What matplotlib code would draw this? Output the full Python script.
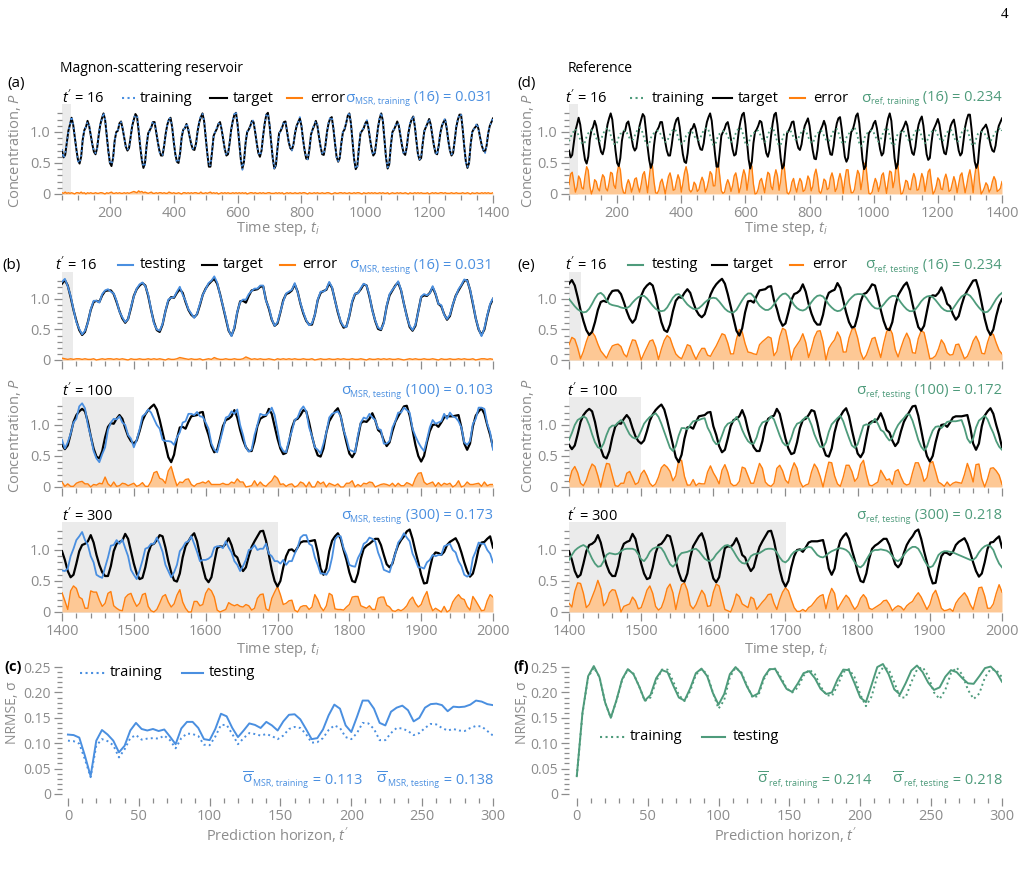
import numpy as np
import matplotlib
matplotlib.use("Agg")
import matplotlib.pyplot as plt
from matplotlib.lines import Line2D
from matplotlib.ticker import MultipleLocator, FixedLocator, FuncFormatter

plt.rcParams["font.family"] = ["Open Sans", "DejaVu Sans"]
plt.rcParams["mathtext.fontset"] = "custom"
plt.rcParams["mathtext.rm"] = "Open Sans"
plt.rcParams["mathtext.it"] = "Open Sans:italic"
plt.rcParams["mathtext.bf"] = "Open Sans:bold"
plt.rcParams["mathtext.sf"] = "Open Sans"

#######################################################################
### Data

# training window, every 5 steps; target is P(t + 16)
train_steps = np.arange(50, 1401, 5)
target_train = np.array([
    0.70, 0.59, 0.63, 0.82, 1.02, 1.12, 1.23, 1.12, 0.92, 0.72,
    0.55, 0.49, 0.60, 0.88, 1.03, 1.08, 1.18, 1.10, 0.95, 0.80,
    0.68, 0.64, 0.74, 0.95, 1.12, 1.22, 1.30, 1.20, 0.95, 0.70,
    0.50, 0.45, 0.58, 0.86, 1.00, 1.02, 1.14, 1.17, 1.05, 0.90,
    0.76, 0.70, 0.74, 0.92, 1.10, 1.20, 1.29, 1.25, 1.02, 0.76,
    0.55, 0.42, 0.50, 0.78, 0.98, 1.03, 1.08, 1.16, 1.16, 1.00,
    0.84, 0.70, 0.62, 0.62, 0.78, 0.98, 1.12, 1.20, 1.23, 1.08,
    0.84, 0.64, 0.52, 0.50, 0.66, 0.92, 1.04, 1.06, 1.13, 1.05,
    0.92, 0.80, 0.72, 0.71, 0.82, 1.02, 1.16, 1.24, 1.30, 1.18,
    0.92, 0.66, 0.44, 0.44, 0.68, 0.94, 1.00, 1.05, 1.13, 1.16,
    1.04, 0.88, 0.72, 0.62, 0.64, 0.82, 1.04, 1.18, 1.28, 1.31,
    1.12, 0.84, 0.56, 0.41, 0.52, 0.82, 1.00, 1.04, 1.10, 1.18,
    1.16, 1.00, 0.82, 0.66, 0.60, 0.70, 0.94, 1.14, 1.28, 1.31,
    1.12, 0.84, 0.58, 0.41, 0.46, 0.74, 0.98, 1.02, 1.08, 1.16,
    1.17, 1.00, 0.84, 0.74, 0.71, 0.80, 0.98, 1.10, 1.16, 1.22,
    1.10, 0.88, 0.70, 0.57, 0.56, 0.72, 0.96, 1.04, 1.10, 1.18,
    1.10, 0.92, 0.76, 0.64, 0.63, 0.78, 1.00, 1.14, 1.22, 1.24,
    1.06, 0.82, 0.60, 0.52, 0.58, 0.82, 1.00, 1.04, 1.14, 1.26,
    1.30, 1.14, 0.84, 0.56, 0.40, 0.45, 0.74, 0.98, 1.02, 1.06,
    1.14, 1.18, 1.06, 0.88, 0.72, 0.62, 0.66, 0.86, 1.08, 1.22,
    1.30, 1.18, 0.88, 0.58, 0.41, 0.48, 0.78, 1.00, 1.04, 1.10,
    1.17, 1.10, 0.94, 0.78, 0.66, 0.63, 0.76, 0.98, 1.12, 1.20,
    1.25, 1.10, 0.86, 0.64, 0.55, 0.58, 0.82, 1.02, 1.08, 1.14,
    1.21, 1.12, 0.94, 0.78, 0.66, 0.64, 0.78, 0.98, 1.10, 1.16,
    1.20, 1.06, 0.86, 0.70, 0.62, 0.66, 0.86, 1.08, 1.20, 1.28,
    1.28, 1.05, 0.76, 0.52, 0.42, 0.50, 0.80, 1.00, 1.05, 1.08,
    1.12, 1.04, 0.90, 0.78, 0.70, 0.68, 0.78, 0.98, 1.10, 1.16,
    1.22])

# offset of the MSR training curve from the target
msr_train_dev = np.array([
    0.02, -0.01, 0.03, 0.01, -0.02, 0.01, 0.02, -0.01, 0.00, 0.02,
    -0.02, 0.01, 0.03, -0.01, 0.02, 0.00, -0.02, 0.01, 0.02, -0.01,
    0.01, 0.02, -0.01, 0.01, 0.02, -0.02, 0.01, 0.00, 0.02, -0.01,
    0.02, 0.03, -0.01, 0.01, -0.02, 0.01, 0.02, -0.01, 0.01, 0.02,
    -0.01, 0.02, 0.01, -0.02, 0.03, 0.04, -0.03, 0.02, 0.05, 0.03,
    0.04, 0.02, -0.03, 0.02, 0.01, -0.02, 0.03, 0.01, -0.01, 0.02,
    0.01, -0.02, 0.02, 0.01, 0.02, -0.01, 0.01, 0.03, -0.02, 0.01,
    0.02, 0.01, -0.01, 0.02, 0.01, 0.00, 0.02, -0.02, 0.01, 0.02,
    -0.01, 0.02, 0.01, 0.02, -0.02, 0.01, 0.01, 0.03, -0.01, 0.01,
    0.02, -0.01, 0.02, 0.03, 0.01, -0.02, 0.01, 0.02, 0.00, -0.01,
    0.02, 0.01, -0.02, 0.01, 0.02, 0.01, -0.01, 0.02, 0.01, 0.02,
    -0.01, 0.02, 0.01, -0.02, 0.01, 0.02, 0.00, 0.01, -0.02, 0.02,
    0.01, 0.02, -0.01, 0.01, 0.02, -0.01, 0.02, 0.01, 0.01, -0.02,
    0.02, 0.01, 0.01, -0.01, 0.02, 0.01, -0.02, 0.01, 0.02, 0.00,
    -0.01, 0.02, 0.01, 0.02, -0.01, 0.01, 0.02, -0.01, 0.01, 0.02,
    0.01, -0.02, 0.02, 0.01, 0.00, 0.02, -0.01, 0.01, 0.02, -0.01,
    0.02, 0.01, -0.01, 0.02, 0.01, 0.01, -0.02, 0.02, 0.01, 0.00,
    0.01, 0.02, -0.01, 0.01, 0.02, -0.02, 0.01, 0.02, 0.01, -0.01,
    0.02, -0.01, 0.01, 0.02, 0.01, -0.02, 0.02, 0.01, 0.00, 0.02,
    -0.01, 0.01, 0.02, 0.01, -0.02, 0.01, 0.02, 0.01, -0.01, 0.02,
    0.01, 0.02, -0.01, 0.01, 0.02, 0.00, -0.01, 0.02, 0.01, 0.01,
    -0.02, 0.01, 0.02, 0.01, -0.01, 0.02, 0.01, 0.00, 0.02, -0.01,
    0.01, 0.02, 0.01, -0.02, 0.01, 0.02, 0.01, -0.01, 0.01, 0.02,
    0.00, -0.01, 0.02, 0.01, 0.02, -0.01, 0.01, 0.02, -0.02, 0.01,
    0.02, 0.01, -0.01, 0.01, 0.02, 0.01, -0.01, 0.02, 0.01, -0.01,
    0.01, 0.02, 0.01, -0.01, 0.02, 0.01, 0.00, 0.02, -0.01, 0.01,
    0.02, -0.01, 0.01, 0.02, 0.01, -0.02, 0.01, 0.02, 0.01, -0.01,
    0.02])

ref_train = np.array([
    0.85, 0.91, 0.98, 1.01, 1.05, 1.01, 0.94, 0.88, 0.82, 0.80,
    0.84, 0.93, 0.98, 1.00, 1.03, 1.00, 0.95, 0.90, 0.86, 0.85,
    0.88, 0.95, 1.01, 1.04, 1.07, 1.04, 0.95, 0.87, 0.81, 0.79,
    0.83, 0.92, 0.97, 0.98, 1.02, 1.03, 0.99, 0.94, 0.89, 0.87,
    0.88, 0.94, 1.00, 1.04, 1.07, 1.05, 0.98, 0.89, 0.82, 0.78,
    0.81, 0.90, 0.96, 0.98, 1.00, 1.02, 1.02, 0.97, 0.92, 0.87,
    0.84, 0.84, 0.90, 0.96, 1.01, 1.04, 1.05, 1.00, 0.92, 0.85,
    0.81, 0.81, 0.86, 0.94, 0.98, 0.99, 1.01, 0.99, 0.94, 0.90,
    0.88, 0.87, 0.91, 0.98, 1.02, 1.05, 1.07, 1.03, 0.94, 0.86,
    0.79, 0.79, 0.86, 0.95, 0.97, 0.99, 1.01, 1.02, 0.98, 0.93,
    0.88, 0.84, 0.85, 0.91, 0.98, 1.03, 1.06, 1.07, 1.01, 0.92,
    0.82, 0.78, 0.81, 0.91, 0.97, 0.98, 1.00, 1.03, 1.02, 0.97,
    0.91, 0.86, 0.84, 0.87, 0.95, 1.02, 1.06, 1.07, 1.01, 0.92,
    0.83, 0.78, 0.79, 0.88, 0.96, 0.98, 1.00, 1.02, 1.03, 0.97,
    0.92, 0.88, 0.87, 0.90, 0.96, 1.00, 1.02, 1.04, 1.00, 0.93,
    0.87, 0.83, 0.82, 0.88, 0.96, 0.98, 1.00, 1.03, 1.00, 0.94,
    0.89, 0.85, 0.85, 0.90, 0.97, 1.02, 1.04, 1.05, 0.99, 0.91,
    0.84, 0.81, 0.83, 0.91, 0.97, 0.98, 1.02, 1.06, 1.07, 1.02,
    0.92, 0.82, 0.77, 0.79, 0.88, 0.96, 0.98, 0.99, 1.02, 1.03,
    0.99, 0.93, 0.88, 0.84, 0.86, 0.92, 1.00, 1.04, 1.07, 1.03,
    0.93, 0.83, 0.78, 0.80, 0.90, 0.97, 0.98, 1.00, 1.03, 1.00,
    0.95, 0.90, 0.86, 0.85, 0.89, 0.96, 1.01, 1.04, 1.05, 1.00,
    0.92, 0.85, 0.82, 0.83, 0.91, 0.98, 1.00, 1.02, 1.04, 1.01,
    0.95, 0.90, 0.86, 0.85, 0.90, 0.96, 1.00, 1.02, 1.04, 0.99,
    0.92, 0.87, 0.84, 0.86, 0.92, 1.00, 1.04, 1.06, 1.06, 0.99,
    0.89, 0.81, 0.78, 0.81, 0.90, 0.97, 0.99, 1.00, 1.01, 0.98,
    0.94, 0.90, 0.87, 0.86, 0.90, 0.96, 1.00, 1.02, 1.04, 1.07,
    1.02])

# testing window, every 4 steps
test_steps = np.arange(1400, 2001, 4)
horizons = [16, 100, 300]
# P(t + 16) for t = 1400 ... 2284, every 4 steps (panel for t' uses an offset)
target_series = np.array([
    1.25, 1.31, 1.22, 1.03, 0.82, 0.64, 0.49, 0.41, 0.46, 0.62,
    0.82, 0.95, 0.97, 0.95, 1.06, 1.13, 1.14, 1.14, 1.08, 0.95,
    0.80, 0.68, 0.61, 0.67, 0.85, 1.05, 1.16, 1.22, 1.26, 1.22,
    1.05, 0.82, 0.62, 0.49, 0.46, 0.58, 0.80, 0.97, 1.03, 1.02,
    1.10, 1.16, 1.10, 0.95, 0.82, 0.74, 0.70, 0.75, 0.90, 1.07,
    1.17, 1.24, 1.29, 1.33, 1.25, 1.08, 0.88, 0.68, 0.48, 0.40,
    0.52, 0.78, 0.96, 0.97, 0.94, 1.05, 1.14, 1.15, 1.16, 1.20,
    1.21, 0.98, 0.84, 0.66, 0.56, 0.60, 0.78, 0.98, 1.08, 1.10,
    1.14, 1.24, 1.12, 0.92, 0.76, 0.64, 0.58, 0.58, 0.74, 0.98,
    1.10, 1.13, 1.15, 1.26, 1.18, 0.98, 0.78, 0.62, 0.53, 0.55,
    0.72, 0.95, 1.08, 1.10, 1.16, 1.24, 1.22, 1.04, 0.82, 0.64,
    0.51, 0.49, 0.62, 0.88, 1.06, 1.14, 1.22, 1.27, 1.14, 0.92,
    0.72, 0.54, 0.48, 0.56, 0.80, 1.03, 1.06, 1.05, 1.10, 1.19,
    1.08, 0.92, 0.88, 0.75, 0.66, 0.72, 0.90, 1.05, 1.14, 1.22,
    1.30, 1.31, 1.15, 0.92, 0.68, 0.50, 0.41, 0.50, 0.72, 0.90,
    1.00, 1.01, 0.97, 1.04, 1.12, 1.14, 1.14, 1.14, 1.15, 1.16,
    0.96, 0.70, 0.60, 0.70, 0.98, 1.15, 1.22, 1.27, 1.18, 1.00,
    0.84, 0.64, 0.50, 0.48, 0.62, 0.86, 1.02, 1.07, 1.10, 1.14,
    1.18, 1.18, 1.08, 0.92, 0.77, 0.72, 0.78, 0.95, 1.08, 1.16,
    1.22, 1.30, 1.33, 1.18, 0.98, 0.80, 0.60, 0.46, 0.47, 0.70,
    0.90, 0.96, 0.95, 0.92, 0.97, 1.08, 1.13, 1.16, 1.19, 1.10,
    0.96, 0.80, 0.66, 0.57, 0.62, 0.80, 1.02, 1.12, 1.13, 1.18,
    1.22, 1.04])

msr_test16_dev = np.array([
    0.03, 0.02, -0.01, 0.02, 0.01, -0.02, 0.02, 0.01, 0.02, -0.01,
    0.01, 0.02, 0.00, -0.01, 0.02, 0.01, 0.02, -0.02, 0.01, 0.02,
    -0.01, 0.02, 0.01, 0.00, 0.02, -0.01, 0.01, 0.02, 0.01, -0.01,
    0.02, 0.01, -0.02, 0.01, 0.02, 0.01, 0.00, 0.02, -0.01, 0.01,
    0.02, 0.04, -0.03, 0.02, 0.01, 0.02, -0.01, 0.01, 0.02, 0.00,
    -0.01, 0.02, 0.01, 0.04, 0.02, -0.01, 0.01, 0.02, 0.01, -0.01,
    0.02, 0.01, -0.01, 0.02, 0.05, 0.03, -0.01, 0.02, 0.01, 0.02,
    0.01, -0.01, 0.02, 0.01, 0.00, 0.02, 0.01, -0.02, 0.01, 0.02,
    0.01, 0.02, -0.01, 0.01, 0.02, 0.01, -0.01, 0.02, 0.00, 0.01,
    0.02, -0.01, 0.01, 0.02, 0.01, -0.01, 0.02, 0.01, 0.02, -0.01,
    0.01, 0.02, 0.01, -0.01, 0.02, 0.01, 0.00, 0.02, -0.01, 0.01,
    0.02, 0.01, -0.02, 0.01, 0.02, 0.01, -0.01, 0.02, 0.01, 0.00,
    -0.01, 0.02, 0.01, 0.02, -0.01, 0.01, 0.02, 0.01, -0.01, 0.02,
    0.01, 0.00, 0.02, -0.01, 0.01, 0.02, 0.01, -0.01, 0.02, 0.01,
    0.02, -0.01, 0.01, 0.02, 0.00, 0.01, -0.02, 0.02, 0.01, 0.02,
    0.01])

msr_test100 = np.array([
    0.76, 0.62, 0.72, 0.86, 1.04, 1.10, 1.30, 1.35, 1.27, 1.00,
    0.82, 0.58, 0.46, 0.40, 0.53, 0.64, 0.92, 1.04, 1.10, 1.09,
    1.14, 1.04, 1.00, 0.84, 0.78, 0.64, 0.76, 0.93, 1.14, 1.18,
    1.25, 1.20, 1.10, 1.00, 0.94, 0.76, 0.74, 0.74, 0.73, 0.68,
    0.80, 0.88, 1.04, 1.06, 1.18, 1.18, 1.16, 1.21, 1.14, 1.13,
    1.04, 0.94, 0.70, 0.60, 0.56, 0.74, 0.92, 1.12, 1.14, 1.22,
    1.18, 1.25, 1.00, 0.84, 0.64, 0.57, 0.60, 0.84, 1.00, 1.18,
    1.16, 1.16, 1.20, 1.28, 1.16, 0.92, 0.66, 0.58, 0.56, 0.76,
    0.90, 1.08, 1.12, 1.24, 1.30, 1.22, 0.96, 0.82, 0.64, 0.60,
    0.54, 0.70, 0.88, 1.12, 1.18, 1.20, 1.22, 1.14, 0.92, 0.78,
    0.60, 0.58, 0.56, 0.84, 1.04, 1.12, 1.10, 1.18, 1.12, 1.08,
    0.94, 0.92, 0.70, 0.70, 0.74, 0.96, 1.06, 1.20, 1.20, 1.28,
    1.24, 1.20, 0.94, 0.82, 0.72, 0.64, 0.58, 0.76, 0.96, 1.08,
    1.02, 1.04, 1.06, 1.18, 1.10, 1.20, 1.14, 1.12, 1.06, 0.96,
    0.72, 0.68, 0.74, 1.02, 1.10, 1.28, 1.28, 1.26, 1.02, 0.88,
    0.60])

msr_test300 = np.array([
    0.67, 0.66, 0.70, 0.90, 1.02, 1.16, 1.22, 1.29, 1.16, 1.08,
    0.90, 0.80, 0.60, 0.57, 0.55, 0.72, 0.88, 1.07, 1.08, 1.16,
    1.10, 1.17, 1.03, 0.90, 0.68, 0.60, 0.53, 0.67, 0.83, 1.02,
    1.04, 1.10, 1.10, 1.20, 1.10, 0.97, 0.76, 0.66, 0.56, 0.64,
    0.76, 0.98, 1.04, 1.12, 1.14, 1.22, 1.10, 0.97, 0.82, 0.84,
    0.84, 0.86, 0.90, 1.04, 1.06, 1.06, 1.03, 1.14, 1.04, 0.96,
    0.82, 0.76, 0.66, 0.74, 0.84, 1.00, 1.02, 1.08, 1.00, 1.02,
    1.02, 1.10, 0.94, 0.90, 0.82, 0.82, 0.78, 0.84, 0.76, 0.82,
    0.82, 0.94, 1.04, 1.20, 1.24, 1.24, 1.10, 1.07, 0.88, 0.76,
    0.62, 0.62, 0.60, 0.68, 0.88, 1.17, 1.23, 1.22, 1.03, 0.92,
    0.76, 0.74, 0.73, 0.87, 0.96, 1.10, 1.13, 1.20, 1.18, 1.14,
    0.96, 0.84, 0.68, 0.66, 0.64, 0.80, 0.94, 1.12, 1.18, 1.27,
    1.20, 1.14, 0.94, 0.84, 0.72, 0.72, 0.70, 0.80, 0.84, 0.92,
    0.90, 0.92, 0.92, 1.06, 1.08, 1.10, 1.00, 0.96, 0.82, 0.74,
    0.60, 0.57, 0.60, 0.87, 0.98, 1.12, 1.10, 1.10, 1.00, 0.94,
    0.80])

ref_test16 = np.array([
    1.00, 0.94, 0.88, 0.83, 0.80, 0.78, 0.79, 0.84, 0.92, 1.01,
    1.08, 1.10, 1.06, 0.98, 0.92, 0.90, 0.89, 0.88, 0.86, 0.85,
    0.85, 0.88, 0.94, 0.99, 1.03, 1.05, 1.05, 1.01, 0.95, 0.89,
    0.84, 0.81, 0.80, 0.81, 0.86, 0.94, 1.02, 1.07, 1.08, 1.04,
    0.97, 0.91, 0.87, 0.84, 0.83, 0.85, 0.89, 0.94, 0.98, 1.01,
    1.02, 1.01, 0.96, 0.90, 0.84, 0.80, 0.78, 0.78, 0.82, 0.90,
    0.98, 1.05, 1.09, 1.09, 1.04, 0.96, 0.89, 0.85, 0.82, 0.82,
    0.85, 0.91, 0.98, 1.04, 1.08, 1.09, 1.05, 0.98, 0.90, 0.85,
    0.82, 0.81, 0.83, 0.88, 0.95, 1.01, 1.05, 1.06, 1.04, 0.98,
    0.91, 0.86, 0.82, 0.80, 0.81, 0.85, 0.91, 0.98, 1.03, 1.07,
    1.08, 1.08, 1.07, 1.02, 0.95, 0.89, 0.85, 0.84, 0.86, 0.91,
    0.97, 1.02, 1.05, 1.05, 1.01, 0.94, 0.88, 0.83, 0.80, 0.80,
    0.83, 0.89, 0.96, 1.01, 1.04, 1.05, 1.03, 0.98, 0.92, 0.86,
    0.82, 0.80, 0.80, 0.84, 0.91, 0.98, 1.04, 1.07, 1.08, 1.05,
    0.99, 0.92, 0.86, 0.81, 0.78, 0.79, 0.84, 0.92, 1.00, 1.06,
    1.10])

ref_test100 = np.array([
    0.76, 0.87, 1.00, 1.08, 1.11, 1.14, 1.11, 1.00, 0.85, 0.72,
    0.64, 0.62, 0.70, 0.84, 0.95, 0.99, 0.99, 1.04, 1.08, 1.04,
    0.94, 0.85, 0.80, 0.78, 0.81, 0.91, 1.02, 1.08, 1.13, 1.16,
    1.19, 1.13, 1.02, 0.89, 0.76, 0.63, 0.58, 0.66, 0.83, 0.95,
    0.95, 0.93, 1.00, 1.06, 1.07, 1.08, 1.10, 1.11, 0.96, 0.87,
    0.75, 0.69, 0.71, 0.83, 0.96, 1.02, 1.04, 1.06, 1.13, 1.05,
    0.92, 0.82, 0.74, 0.70, 0.70, 0.80, 0.96, 1.04, 1.06, 1.07,
    1.14, 1.09, 0.96, 0.83, 0.72, 0.67, 0.68, 0.79, 0.94, 1.02,
    1.04, 1.08, 1.13, 1.11, 1.00, 0.85, 0.74, 0.65, 0.64, 0.72,
    0.89, 1.01, 1.06, 1.11, 1.15, 1.06, 0.92, 0.79, 0.67, 0.63,
    0.69, 0.84, 0.99, 1.01, 1.00, 1.04, 1.10, 1.02, 0.92, 0.89,
    0.81, 0.75, 0.79, 0.91, 1.00, 1.06, 1.11, 1.17, 1.17, 1.07,
    0.92, 0.76, 0.65, 0.59, 0.65, 0.79, 0.91, 0.97, 0.98, 0.95,
    1.00, 1.05, 1.06, 1.06, 1.06, 1.07, 1.08, 0.95, 0.78, 0.71,
    0.78, 0.96, 1.07, 1.11, 1.15, 1.09, 0.97, 0.87, 0.74, 0.65,
    0.60])

ref_test300 = np.array([
    0.84, 0.92, 0.99, 1.03, 1.06, 1.08, 1.05, 0.96, 0.86, 0.78,
    0.73, 0.74, 0.82, 0.92, 0.95, 0.94, 0.93, 0.94, 0.98, 1.01,
    1.02, 1.02, 1.02, 1.00, 0.93, 0.85, 0.82, 0.88, 0.97, 1.02,
    1.04, 1.05, 1.03, 0.96, 0.86, 0.77, 0.73, 0.78, 0.90, 0.95,
    0.96, 0.97, 0.99, 1.01, 1.02, 0.98, 0.92, 0.86, 0.83, 0.82,
    0.86, 0.93, 0.98, 1.03, 1.07, 1.08, 1.05, 0.98, 0.90, 0.83,
    0.79, 0.78, 0.82, 0.90, 0.93, 0.94, 0.95, 0.98, 1.01, 1.02,
    1.02, 1.01, 0.96, 0.88, 0.82, 0.80, 0.84, 0.92, 0.97, 0.99,
    1.00, 1.01, 1.03, 1.05, 1.04, 0.98, 0.92, 0.89, 0.88, 0.91,
    0.95, 0.98, 1.00, 1.02, 1.03, 1.02, 1.00, 0.96, 0.88, 0.80,
    0.74, 0.72, 0.76, 0.84, 0.92, 0.98, 1.00, 1.00, 1.01, 1.00,
    0.99, 0.96, 0.90, 0.84, 0.82, 0.86, 0.92, 0.98, 1.02, 1.05,
    1.05, 1.02, 0.94, 0.84, 0.76, 0.72, 0.74, 0.82, 0.92, 0.96,
    0.98, 0.98, 0.97, 0.96, 0.94, 0.92, 0.90, 0.88, 0.86, 0.84,
    0.84, 0.88, 0.96, 1.02, 1.06, 1.08, 1.06, 1.00, 0.88, 0.78,
    0.72])

# NRMSE against prediction horizon t', every 4 steps
horizon = np.arange(0, 301, 4)
nrmse_msr_train = np.array([
    0.105, 0.104, 0.099, 0.068, 0.033, 0.095, 0.108, 0.104, 0.096, 0.072,
    0.088, 0.110, 0.116, 0.107, 0.109, 0.110, 0.109, 0.115, 0.106, 0.090,
    0.110, 0.119, 0.118, 0.114, 0.097, 0.096, 0.113, 0.136, 0.136, 0.118,
    0.098, 0.110, 0.120, 0.118, 0.115, 0.118, 0.114, 0.108, 0.115, 0.128,
    0.132, 0.130, 0.118, 0.101, 0.102, 0.110, 0.126, 0.135, 0.130, 0.112,
    0.108, 0.120, 0.140, 0.139, 0.128, 0.106, 0.106, 0.120, 0.130, 0.129,
    0.124, 0.116, 0.120, 0.130, 0.138, 0.137, 0.130, 0.125, 0.128, 0.125,
    0.124, 0.130, 0.134, 0.133, 0.124, 0.115])
nrmse_msr_test = np.array([
    0.117, 0.116, 0.111, 0.075, 0.035, 0.105, 0.126, 0.117, 0.105, 0.082,
    0.095, 0.125, 0.140, 0.128, 0.125, 0.128, 0.124, 0.127, 0.113, 0.098,
    0.129, 0.142, 0.142, 0.130, 0.108, 0.106, 0.128, 0.158, 0.153, 0.130,
    0.112, 0.125, 0.139, 0.136, 0.130, 0.142, 0.135, 0.125, 0.143, 0.156,
    0.157, 0.147, 0.128, 0.108, 0.110, 0.127, 0.155, 0.176, 0.168, 0.135,
    0.122, 0.152, 0.184, 0.184, 0.168, 0.140, 0.135, 0.162, 0.170, 0.174,
    0.165, 0.143, 0.150, 0.170, 0.177, 0.178, 0.175, 0.163, 0.172, 0.171,
    0.172, 0.176, 0.184, 0.182, 0.177, 0.175])
nrmse_ref_train = np.array([
    0.035, 0.158, 0.230, 0.249, 0.231, 0.180, 0.150, 0.184, 0.225, 0.245,
    0.237, 0.212, 0.183, 0.190, 0.222, 0.245, 0.245, 0.222, 0.195, 0.183,
    0.203, 0.235, 0.246, 0.236, 0.200, 0.168, 0.185, 0.230, 0.249, 0.240,
    0.214, 0.190, 0.193, 0.226, 0.245, 0.247, 0.230, 0.208, 0.200, 0.210,
    0.233, 0.245, 0.236, 0.212, 0.195, 0.193, 0.214, 0.240, 0.246, 0.230,
    0.196, 0.173, 0.192, 0.232, 0.249, 0.246, 0.220, 0.190, 0.190, 0.220,
    0.245, 0.250, 0.232, 0.200, 0.187, 0.205, 0.238, 0.249, 0.235, 0.205,
    0.187, 0.198, 0.230, 0.246, 0.244, 0.230])
nrmse_ref_test = np.array([
    0.035, 0.160, 0.232, 0.252, 0.230, 0.180, 0.150, 0.185, 0.226, 0.246,
    0.236, 0.212, 0.184, 0.195, 0.228, 0.244, 0.240, 0.214, 0.190, 0.184,
    0.208, 0.238, 0.247, 0.232, 0.199, 0.176, 0.197, 0.236, 0.250, 0.238,
    0.212, 0.192, 0.198, 0.230, 0.246, 0.246, 0.226, 0.207, 0.201, 0.218,
    0.238, 0.242, 0.228, 0.207, 0.197, 0.200, 0.226, 0.245, 0.244, 0.218,
    0.190, 0.181, 0.215, 0.250, 0.256, 0.236, 0.206, 0.196, 0.218, 0.243,
    0.253, 0.240, 0.219, 0.205, 0.210, 0.231, 0.244, 0.240, 0.228, 0.218,
    0.217, 0.232, 0.248, 0.251, 0.240, 0.221])

sigma_msr_train16 = 0.031
sigma_msr_test = [0.031, 0.103, 0.173]
sigma_ref_train16 = 0.234
sigma_ref_test = [0.234, 0.172, 0.218]
mean_msr = (0.113, 0.138)
mean_ref = (0.214, 0.218)

#######################################################################
### Style

BLUE = "#4a8fe0"
GREEN = "#4e9b7b"
ORANGE = "#ff7f0e"
FILL = "#fdc895"
SHADE = "#ebebeb"
GREY = "#8c8c8c"

W, H = 1023, 869
fig = plt.figure(figsize=(W / 100, H / 100), dpi=100)
renderer = fig.canvas.get_renderer()


def fx(px):
    return px / W


def fy(py):
    return 1 - py / H


def add_box(left, right, top, bottom):
    return fig.add_axes([fx(left), fy(bottom), (right - left) / W, (bottom - top) / H])


def style(ax):
    for s in ax.spines.values():
        s.set_visible(False)
    ax.tick_params(which="both", direction="out", color=GREY, labelcolor=GREY,
                   labelsize=10.5, width=0.9)
    ax.tick_params(which="major", length=6, pad=2)
    ax.tick_params(which="minor", length=3.5)


def conc_axes(ax):
    style(ax)
    ax.set_ylim(-0.02, 1.45)
    ax.yaxis.set_major_locator(FixedLocator([0, 0.5, 1.0]))
    ax.yaxis.set_minor_locator(FixedLocator([0.1, 0.2, 0.3, 0.4, 0.6, 0.7, 0.8, 0.9, 1.1, 1.2, 1.3]))
    ax.yaxis.set_major_formatter(FuncFormatter(lambda v, _: "0" if v == 0 else f"{v:.1f}"))


def draw_series(ax, t, target, pred, color, ls, shade_end, lw_target=1.6):
    ax.axvspan(t[0], shade_end, color=SHADE, lw=0, zorder=0)
    err = np.abs(pred - target)
    ax.fill_between(t, 0, err, color=FILL, lw=0, zorder=1)
    ax.plot(t, err, color=ORANGE, lw=1.0, zorder=2)
    ax.plot(t, target, color="black", lw=lw_target, zorder=3)
    ax.plot(t, pred, color=color, lw=1.3, ls=ls, zorder=4)


def text(x, y, s, **kw):
    kw.setdefault("fontsize", 10.5)
    kw.setdefault("va", "center")
    return fig.text(fx(x), fy(y), s, **kw)


def sigma_label(x_right, y, sub, tail, color, bar=False):
    # right-aligned "σ_sub tail" built from three pieces so the subscript stays small
    t_tail = text(x_right, y, tail, ha="right", color=color, fontsize=10.5)
    x0 = t_tail.get_window_extent(renderer=renderer).x0
    t_sub = text(x0 - 0.5, y + 4, sub, ha="right", color=color, fontsize=6.4)
    x1 = t_sub.get_window_extent(renderer=renderer).x0
    head = r"$\overline{\mathrm{\sigma}}$" if bar else "σ"
    text(x1 - 0.3, y, head, ha="right", color=color, fontsize=11)


def sample(x0, x1, y, color, ls):
    fig.add_artist(Line2D([fx(x0), fx(x1)], [fy(y), fy(y)], transform=fig.transFigure,
                          color=color, ls=ls, lw=1.5))


columns = [
    dict(left=62, right=493, color=BLUE, tag="MSR", letters="abc",
         title="Magnon-scattering reservoir", title_x=60,
         train_pred=target_train + msr_train_dev,
         test_preds=[target_series[:len(test_steps)] + msr_test16_dev, msr_test100, msr_test300],
         sig_train=sigma_msr_train16, sig_test=sigma_msr_test, means=mean_msr,
         nrmse=(nrmse_msr_train, nrmse_msr_test), shade_train=79,
         letter_x=(7, 2, 4), ylab_x=15, nrmse_x=13, tp_x=(62, 55, 62),
         leg_a=[(122, 135, 140), (210, 227, 233), (287, 302, 310)],
         leg_b=[(118, 133, 140), (202, 217, 223), (280, 295, 302)],
         leg_c=(80, 105, 110, 182, 203, 209, 673), xlim_c=-4.2),
    dict(left=569, right=1002, color=GREEN, tag="ref", letters="def",
         title="Reference", title_x=568,
         train_pred=ref_train,
         test_preds=[ref_test16, ref_test100, ref_test300],
         sig_train=sigma_ref_train16, sig_test=sigma_ref_test, means=mean_ref,
         nrmse=(nrmse_ref_train, nrmse_ref_test), shade_train=78,
         letter_x=(517, 517, 513), ylab_x=528, nrmse_x=522, tp_x=(565, 565, 567),
         leg_a=[(630, 643, 652), (713, 732, 738), (790, 805, 813)],
         leg_b=[(628, 643, 652), (712, 727, 733), (790, 803, 812)],
         leg_c=(600, 625, 630, 702, 725, 733, 737), xlim_c=-5.5),
]

# (top, bottom) pixel rows of the concentration panels
test_rows = [(271.5, 361.2), (397.1, 488.2), (522.1, 613.2)]

for col in columns:
    L, R, c, tag = col["left"], col["right"], col["color"], col["tag"]
    xmid = (L + R) / 2

    # ---- training panel
    ax = add_box(L, R, 104.1, 195.2)
    conc_axes(ax)
    draw_series(ax, train_steps, target_train, col["train_pred"], c, ":", col["shade_train"], lw_target=1.4)
    ax.set_xlim(50, 1400)
    ax.xaxis.set_major_locator(MultipleLocator(200))
    ax.xaxis.set_minor_locator(MultipleLocator(50))

    text(col["title_x"], 68, col["title"], fontsize=10)
    text(col["letter_x"][0], 83, f"({col['letters'][0]})", fontsize=11)
    text(col["tp_x"][0], 98, "$t'$ = 16")
    styles = [(c, ":", "training"), ("black", "-", "target"), (ORANGE, "-", "error")]
    for (x0, x1, xt), (sc, sls, lab) in zip(col["leg_a"], styles):
        sample(x0, x1, 98, sc, sls)
        text(xt, 98, lab)
    sigma_label(R, 98, f"{tag}, training", " (16) = %.3f" % col["sig_train"], c)
    text(col["ylab_x"], 150, "Concentration, $P$", rotation=90, ha="center", color=GREY)
    text(xmid, 229, "Time step, $t_i$", ha="center", color=GREY)

    # ---- testing panels
    for k, (tp, (top, bot)) in enumerate(zip(horizons, test_rows)):
        ax = add_box(L, R, top, bot)
        conc_axes(ax)
        offset = (tp - horizons[0]) // 4
        target = target_series[offset:offset + len(test_steps)]
        draw_series(ax, test_steps, target, col["test_preds"][k], c, "-", 1400 + tp)
        ax.set_xlim(1400, 2000)
        ax.xaxis.set_major_locator(MultipleLocator(100))
        ax.xaxis.set_minor_locator(MultipleLocator(20))
        if k < 2:
            ax.set_xticklabels([])
        yrow = top - 6.5
        text(col["tp_x"][1] if k == 0 else col["tp_x"][2], yrow, "$t'$ = %d" % tp)
        sigma_label(R, yrow, f"{tag}, testing", " (%d) = %.3f" % (tp, col["sig_test"][k]), c)
    text(col["letter_x"][1], 265, f"({col['letters'][1]})", fontsize=11)
    styles = [(c, "-", "testing"), ("black", "-", "target"), (ORANGE, "-", "error")]
    for (x0, x1, xt), (sc, sls, lab) in zip(col["leg_b"], styles):
        sample(x0, x1, 265, sc, sls)
        text(xt, 265, lab)
    text(col["ylab_x"], 435, "Concentration, $P$", rotation=90, ha="center", color=GREY)
    text(xmid, 650, "Time step, $t_i$", ha="center", color=GREY)

    # ---- NRMSE panel
    ax = add_box(L, R, 662, 798)
    style(ax)
    ax.plot(horizon, col["nrmse"][0], color=c, ls=":", lw=1.4)
    ax.plot(horizon, col["nrmse"][1], color=c, lw=1.4)
    ax.set_xlim(col["xlim_c"], 300)
    ax.set_ylim(-0.008, 0.26)
    ax.xaxis.set_major_locator(MultipleLocator(50))
    ax.xaxis.set_minor_locator(MultipleLocator(10))
    ax.yaxis.set_major_locator(FixedLocator([0, 0.05, 0.10, 0.15, 0.20, 0.25]))
    ax.yaxis.set_minor_locator(FixedLocator([v / 100 for v in range(1, 25) if v % 5]))
    ax.yaxis.set_major_formatter(FuncFormatter(lambda v, _: "0" if abs(v) < 1e-9 else f"{v:.2f}"))
    ax.tick_params(axis="y", labelsize=10)
    ax.set_xlabel("Prediction horizon, $t'$", color=GREY, fontsize=10.5, labelpad=1)
    text(col["letter_x"][2], 667, f"({col['letters'][2]})", fontsize=10.5, fontweight="bold")
    text(col["nrmse_x"], 713, "NRMSE, σ", rotation=90, ha="center", color=GREY, fontsize=10)
    x0, x1, xt, x2, x3, xt2, ly = col["leg_c"]
    sample(x0, x1, ly, c, ":")
    text(xt, ly, "training")
    sample(x2, x3, ly, c, "-")
    text(xt2, ly, "testing")
    sigma_label(R - 131, 780, f"{tag}, training", " = %.3f" % col["means"][0], c, bar=True)
    sigma_label(R, 780, f"{tag}, testing", " = %.3f" % col["means"][1], c, bar=True)

text(1008, 15, "4", ha="right", fontsize=11, family="Liberation Serif")

fig.savefig("out.png", dpi=100)
